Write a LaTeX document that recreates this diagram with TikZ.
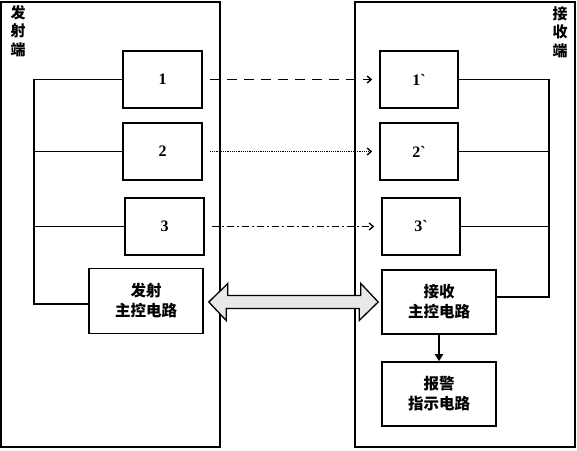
\documentclass[tikz,border=0pt]{standalone}
\usepackage{fontspec}
\setmainfont{Noto Sans CJK SC}
\newfontfamily\numfont{Liberation Serif}[Ligatures=TeXOff]
\usetikzlibrary{arrows.meta,calc}
\begin{document}
\begin{tikzpicture}[x=1pt,y=-1pt,
  bigbox/.style={draw,line width=1.6pt,inner sep=0pt},
  blk/.style={draw,line width=1.6pt,inner sep=0pt,align=center,
    font=\bfseries\fontsize{15.5}{20}\selectfont},
  numblk/.style={blk,minimum width=79pt,minimum height=57pt,
    font=\numfont\bfseries\fontsize{16}{18}\selectfont},
  bus/.style={line width=1.9pt},
  sig/.style={line width=1.3pt,-{Straight Barb[length=4pt,width=7pt,line width=1.4pt]},
    shorten <=7pt,shorten >=7pt},
  sidelabel/.style={align=center,inner sep=0pt,font=\bfseries\fontsize{15}{18.5}\selectfont}]
\useasboundingbox (0,0) rectangle (577,450);
% outer frames
\node[bigbox,minimum width=219pt,minimum height=445pt] (tx) at (110.5,224.5) {};
\node[bigbox,minimum width=220pt,minimum height=445pt] (rx) at (465,224.5) {};
\node[sidelabel] (txl) at (18,31) {发\\射\\端};
\node[sidelabel] (rxl) at (560,32) {接\\收\\端};
% transmitter blocks
\node[numblk] (t1) at (162.5,79.5) {1};
\node[numblk] (t2) at (162.5,151.5) {2};
\node[numblk] (t3) at (164.5,226.5) {3};
\node[blk,minimum width=114pt,minimum height=65pt] (tm) at (146,301) {发射\\主控电路};
% receiver blocks
\node[numblk,minimum width=78pt] (r1) at (419,79.5) {1\char96};
\node[numblk,minimum width=78pt] (r2) at (419,151.5) {2\char96};
\node[numblk,minimum width=78pt] (r3) at (421,226.5) {3\char96};
\node[blk,minimum width=114pt,minimum height=64pt] (rm) at (439,302) {接收\\主控电路};
\node[blk,minimum width=114pt,minimum height=64pt] (ra) at (439,394) {报警\\指示电路};
% buses
\coordinate (lbus) at (34,0);
\coordinate (rbus) at (549,0);
\coordinate (tmc) at ($(tm.west)+(0,3)$);
\coordinate (rmc) at ($(rm.east)+(0,-5)$);
\draw[bus] (t1.west) -- (t1.west -| lbus) -- (tmc -| lbus) -- (tmc);
\draw[bus] (t2.west) -- (t2.west -| lbus);
\draw[bus] (t3.west) -- (t3.west -| lbus);
\draw[bus] (r1.east) -- (r1.east -| rbus) -- (rmc -| rbus) -- (rmc);
\draw[bus] (r2.east) -- (r2.east -| rbus);
\draw[bus] (r3.east) -- (r3.east -| rbus);
% signal links
\draw[sig,dash pattern=on 10pt off 7pt] (t1.east) -- (r1.west);
\draw[sig,dash pattern=on 1.2pt off 1pt] (t2.east) -- (r2.west);
\draw[sig,dash pattern=on 7pt off 3pt on 2pt off 3pt] (t3.east) -- (r3.west);
% alarm arrow
\draw[line width=1.9pt,-{Triangle[length=7pt,width=8pt]}] (rm.south) -- (ra.north);
% double link arrow
\coordinate (aL) at ($(tm.east)+(5,1)$);
\coordinate (aR) at ($(rm.west)+(-3,0)$);
\draw[line width=1.3pt,fill=gray!18,line join=miter]
  (aL) -- ++(19,-18.5) -- ++(0,12) -- ++(133,0) -- ++(0,-12) -- (aR)
  -- ++(-19,18.5) -- ++(0,-12) -- ++(-133,0) -- ++(0,12) -- cycle;
\end{tikzpicture}
\end{document}
